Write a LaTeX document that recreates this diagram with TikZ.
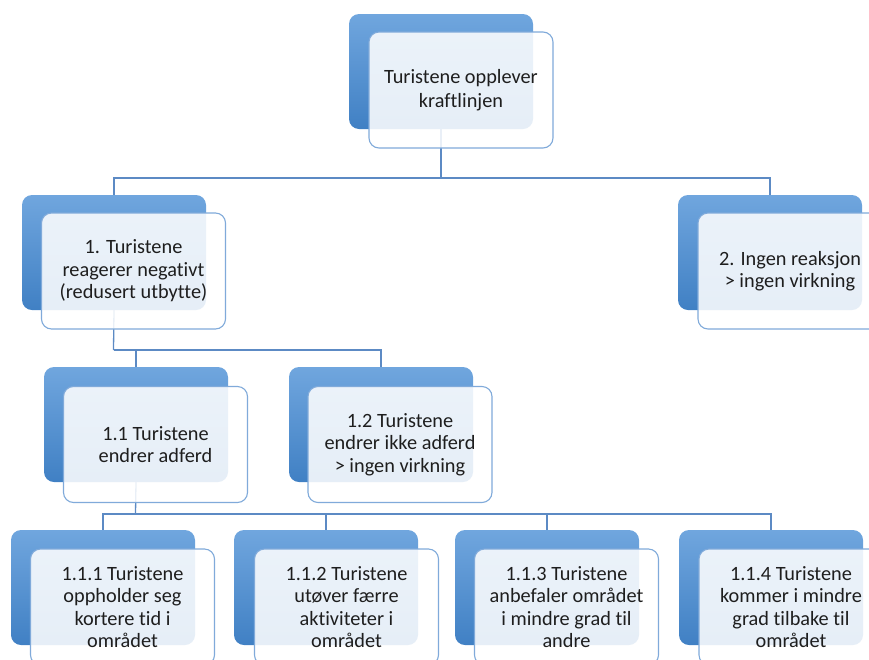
\documentclass[tikz,border=0pt]{standalone}
\usepackage{fontspec}
\setmainfont{Carlito}[Ligatures={NoCommon}]
\begin{document}
\begin{tikzpicture}[x=1pt,y=-1pt,
  backbox/.style={rectangle,rounded corners=10pt,minimum width=184pt,minimum height=115pt,
    inner sep=0pt,outer sep=0pt,anchor=north west,top color=backtop,bottom color=backbot,draw=none},
  frontbox/.style={rectangle,rounded corners=10pt,minimum width=184pt,minimum height=116pt,
    inner sep=0pt,outer sep=0pt,anchor=center,fill=white,fill opacity=0.87,text opacity=1,
    draw=frontline,draw opacity=1,line width=1.1pt,text=txt,align=center,
    font=\fontsize{20.3}{22.5}\selectfont},
  conn/.style={draw=connline,line width=1.3pt}]
\definecolor{backtop}{RGB}{112,166,222}
\definecolor{backbot}{RGB}{64,128,196}
\definecolor{frontline}{RGB}{128,170,218}
\definecolor{connline}{RGB}{92,138,196}
\definecolor{txt}{RGB}{30,30,30}
\useasboundingbox (0,0) rectangle (869,659);
\clip (0,0) rectangle (869,659);
% back boxes
\node[backbox] (tb) at (349,14) {};
\node[backbox] (ab) at (22,195) {};
\node[backbox] (bb) at (678,195) {};
\node[backbox] (aab) at (44,367) {};
\node[backbox] (abb) at (289,367) {};
\node[backbox] (c1b) at (11,530) {};
\node[backbox] (c2b) at (234,530) {};
\node[backbox] (c3b) at (455,530) {};
\node[backbox] (c4b) at (679,530) {};
% connectors
\coordinate (j0) at (441,178);
\coordinate (j1) at (113.5,350);
\coordinate (j2) at (135.5,514);
\draw[conn] (tb.south) -- (j0);
\draw[conn] (j0) -| (ab.north);
\draw[conn] (j0) -| (bb.north);
\draw[conn] (ab.south) -- (j1);
\draw[conn] (j1) -| (aab.north);
\draw[conn] (j1) -| (abb.north);
\draw[conn] (aab.south) -- (j2);
\draw[conn] (j2) -| (c1b.north);
\draw[conn] (j2) -| (c2b.north);
\draw[conn] (j2) -| (c3b.north);
\draw[conn] (j2) -| (c4b.north);
% front boxes
\node[frontbox,font=\fontsize{20.3}{24}\selectfont] (t) at (461,90) {Turistene opplever\\kraftlinjen};
\node[frontbox] (a) at (133.5,271) {1. Turistene\\reagerer negativt\\(redusert utbytte)};
\node[frontbox] (b) at (790,271) {2. Ingen reaksjon\\> ingen virkning};
\node[frontbox] (aa) at (155.5,444.5) {1.1 Turistene\\endrer adferd};
\node[frontbox] (ab2) at (400,444.5) {1.2 Turistene\\endrer ikke adferd\\> ingen virkning};
\node[frontbox] (c1) at (122.5,607) {1.1.1 Turistene\\oppholder seg\\kortere tid i\\området};
\node[frontbox] (c2) at (346.5,607) {1.1.2 Turistene\\utøver færre\\aktiviteter i\\området};
\node[frontbox] (c3) at (566.5,607) {1.1.3 Turistene\\anbefaler området\\i mindre grad til\\andre};
\node[frontbox] (c4) at (791,607) {1.1.4 Turistene\\kommer i mindre\\grad tilbake til\\området};
\end{tikzpicture}
\end{document}
